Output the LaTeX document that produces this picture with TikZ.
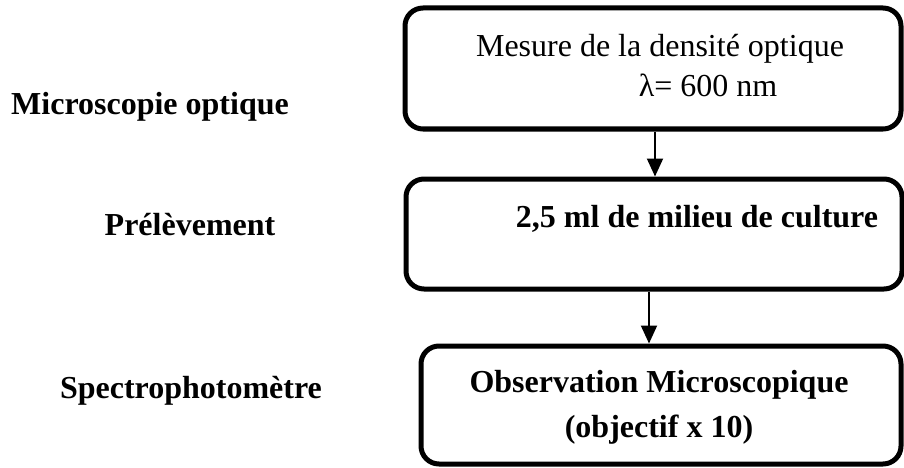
\documentclass[tikz,border=0pt]{standalone}
\usepackage{fontspec}
\setmainfont{Liberation Serif}
\usetikzlibrary{arrows.meta, positioning}
\tikzset{
  stepbox/.style={draw, line width=5pt, rounded corners=18pt, inner sep=0pt},
  flowarrow/.style={-{Triangle[length=18pt,width=16pt]}, line width=2pt},
  plaintext/.style={anchor=base, inner sep=0pt, font=\fontsize{32}{38}\selectfont},
  boldtext/.style={plaintext, font=\bfseries\fontsize{32}{38}\selectfont},
}

\begin{document}
\begin{tikzpicture}[x=1pt, y=-1pt]
\useasboundingbox (0,0) rectangle (904,468);

% Left labels
\node[boldtext] (micro) at (150,115) {Microscopie optique};
\node[boldtext] (prel) at (190,235) {Prélèvement};
\node[boldtext] (spectro) at (191,398) {Spectrophotomètre};

% Boxes
\node[stepbox, minimum width=496pt, minimum height=121pt] (box1) at (653,68.5) {};
\node[stepbox, minimum width=496pt, minimum height=110pt] (box2) at (654,234) {};
\node[stepbox, minimum width=480pt, minimum height=118pt] (box3) at (661,405) {};

% Box texts
\node[plaintext] (dens) at (660,57) {Mesure de la densité optique};
\node[plaintext] (lambda) at (708,97) {λ= 600 nm};
\node[boldtext] (vol) at (697,227) {2,5 ml de milieu de culture};
\node[boldtext] (obs) at (659,392) {Observation Microscopique};
\node[boldtext] (obj) at (659,437) {(objectif x 10)};

% Arrows
\coordinate (a1) at (655,0);
\coordinate (a2) at (649,0);
\draw[flowarrow] (box1.south -| a1) -- (box2.north -| a1);
\draw[flowarrow] (box2.south -| a2) -- (box3.north -| a2);
\end{tikzpicture}
\end{document}
